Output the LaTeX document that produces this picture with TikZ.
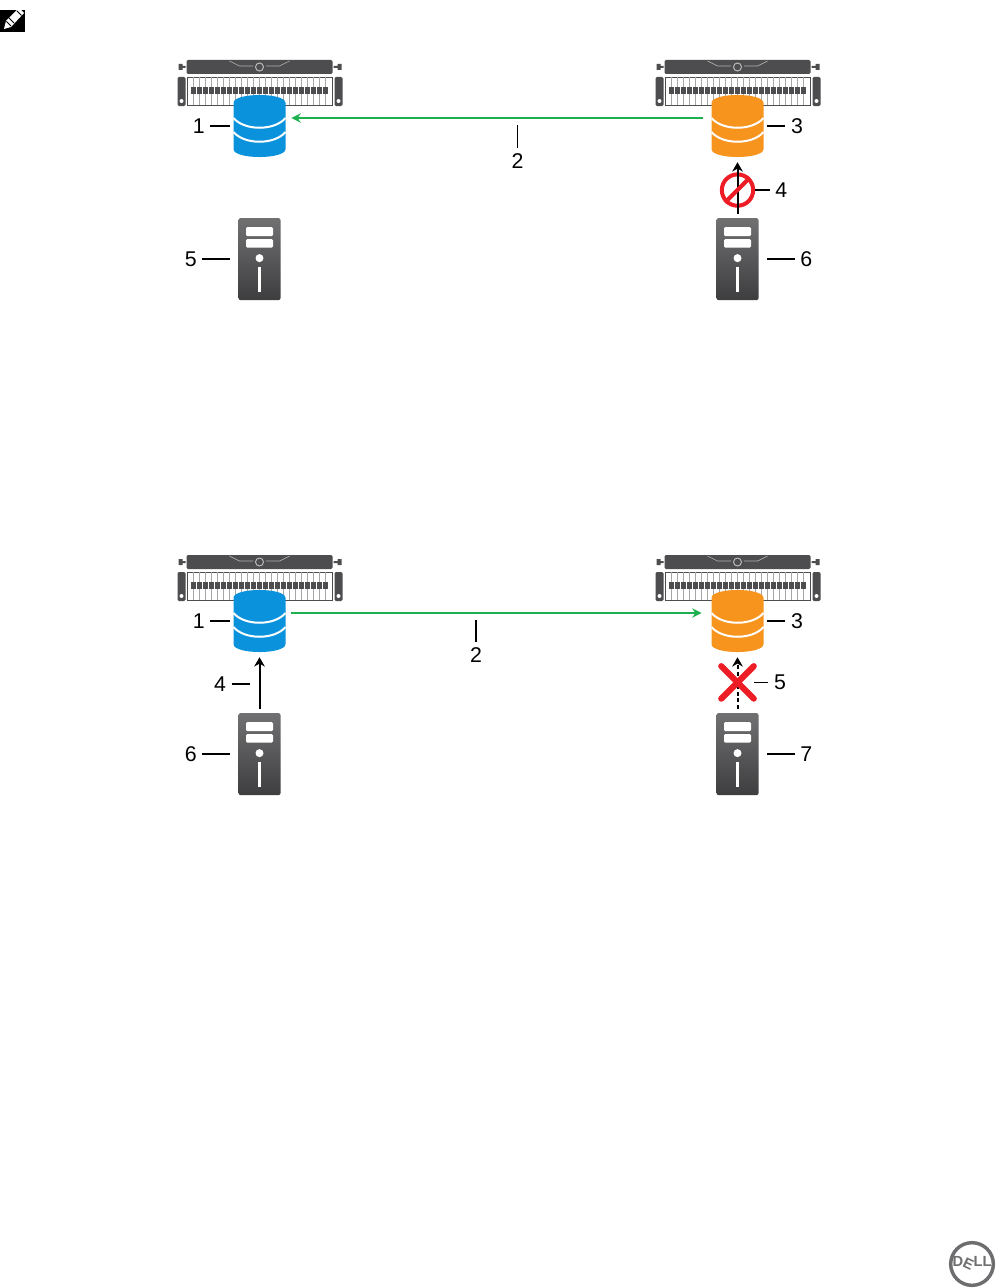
\documentclass[tikz,border=0pt]{standalone}
\usepackage{fontspec}
\setmainfont{Liberation Sans}
\usetikzlibrary{arrows.meta,positioning,calc}
\definecolor{dbblue}{HTML}{0A93DC}
\definecolor{dborange}{HTML}{F7941E}
\definecolor{replgreen}{HTML}{1CB04E}
\definecolor{stopred}{HTML}{EE1C25}
\definecolor{chassis}{HTML}{4D4D4F}
\definecolor{delllogo}{HTML}{6E6E70}
\tikzset{
  pics/dbstack/.style={code={
    \fill[#1] (-26,-23) .. controls (-26,-33.7) and (26,-33.7) .. (26,-23) -- (26,23)
      .. controls (26,33.7) and (-26,33.7) .. (-26,23) -- cycle;
    \draw[white,line width=1.5pt] (-26,-8) .. controls (-15,5) and (15,5) .. (26,-8);
    \draw[white,line width=1.5pt] (-26,6) .. controls (-15,19) and (15,19) .. (26,6);
  }},
  pics/rackunit/.style={code={
    \fill[chassis,rounded corners=1pt] (-73,-66) rectangle (73,-52);
    \draw[gray!60,line width=.5pt] (-30,-65) -- (-20,-60) -- (20,-60) -- (30,-65);
    \fill[chassis] (0,-59) circle[radius=6.5];
    \draw[gray!50,line width=.7pt] (0,-59) circle[radius=4];
    \fill[chassis] (-81,-62) rectangle (-77,-56) (-77,-60) rectangle (-74,-58);
    \fill[chassis] (82,-62) rectangle (78,-56) (78,-60) rectangle (74,-58);
    \fill[white] (-72,-49) rectangle (73,-21);
    \draw[chassis,line width=.6pt] (-72,-49) rectangle (73,-21);
    \foreach \px in {-66,-60,...,70} {
      \draw[gray!70,line width=.5pt] (\px,-49) -- (\px,-21);
      \fill[chassis] (\px-2.3,-39) rectangle (\px+2.3,-32);
    }
    \fill[chassis,rounded corners=1pt] (-82,-49) rectangle (-74,-20);
    \fill[chassis,rounded corners=1pt] (83,-49) rectangle (75,-20);
    \fill[white] (-78,-25) circle[radius=2] (79,-25) circle[radius=2];
  }},
  pics/towerunit/.style={code={
    \shade[top color=chassis!80!white,bottom color=chassis!80!black,rounded corners=1.5pt]
      (-21,-41) rectangle (21,41);
    \fill[white,rounded corners=1pt] (-13.5,-32) rectangle (13.5,-23);
    \fill[white,rounded corners=1pt] (-13.5,-20) rectangle (13.5,-11.5);
    \fill[white] (0,-1) circle[radius=4];
    \fill[white] (-1.2,8) rectangle (1.2,33);
  }}
}
\begin{document}
\begin{tikzpicture}[
  x=.75pt,y=-.75pt,
  node distance=41.7pt,
  every node/.style={font=\fontsize{16}{18}\selectfont,align=center},
  diskbox/.style={minimum width=49.5pt,minimum height=54pt,inner sep=0pt},
  serverbox/.style={minimum width=31.5pt,minimum height=61.5pt,inner sep=0pt},
  tag/.style={inner sep=4pt},
  leader/.style={line width=1.1pt,color=black},
  repl/.style={-{Stealth[length=7pt,width=7pt]},line width=1.5pt,color=replgreen},
  hostio/.style={-{Stealth[length=7pt,width=8pt]},line width=1.5pt,color=black},
  ring/.style={circle,draw=stopred,line width=3pt,minimum size=23.5pt,inner sep=0pt},
  crossbox/.style={minimum size=24pt,inner sep=0pt},
  stopmark/.style={line width=3pt,color=stopred},
  crossmark/.style={line width=4.6pt,line cap=round,color=stopred}
]
\useasboundingbox (0,0) rectangle (997,1288);
\fill[white] (0,0) rectangle (997,1288);

\fill[black] (0,10) rectangle (25,32);
\fill[white] (4,29) -- (6,21) -- (19,8) -- (24,13) -- (11,27) -- cycle;
\draw[black,line width=.6pt] (6.5,21.5) -- (11,26) (9,18) -- (14,23) (17,11) -- (21.5,15.5);

\node[diskbox] (diskA) at (259.5,126) {};
\node[diskbox] (diskB) at (737.5,126) {};
\node[serverbox,below=of diskA] (serverA) {};
\node[serverbox,below=of diskB] (serverB) {};
\node[ring] (ringB) at ($(diskB.south)!.5!(serverB.north)$) {};
\pic at (diskA.center) {rackunit};
\pic at (diskB.center) {rackunit};
\pic at (diskA.center) {dbstack=dbblue};
\pic at (diskB.center) {dbstack=dborange};
\pic at (serverA.center) {towerunit};
\pic at (serverB.center) {towerunit};
\node[tag,left=12pt of diskA] (tagA1) {1};
\node[tag] (tagA2) at (517.5,161) {2};
\coordinate (legA2) at (517.5,125);
\node[tag,right=11pt of diskB] (tagA3) {3};
\node[tag,right=11pt of ringB] (tagA4) {4};
\node[tag,left=27pt of serverA] (tagA5) {5};
\node[tag,right=27pt of serverB] (tagA6) {6};
\draw[repl,shorten <=1pt,shorten >=-1pt] ([yshift=6pt]diskB.west) -- ([yshift=6pt]diskA.east);
\draw[hostio,shorten <=3pt] (serverB.north) -- (diskB.south);
\draw[stopmark] (ringB.225) -- (ringB.45);
\draw[leader] (tagA1) -- ([xshift=2.6pt]diskA.west);
\draw[leader] (tagA2) -- (legA2);
\draw[leader] (tagA3) -- ([xshift=-2.6pt]diskB.east);
\draw[leader] (tagA4) -- (ringB);
\draw[leader] (tagA5) -- ([xshift=-6pt]serverA.west);
\draw[leader] (tagA6) -- ([xshift=6pt]serverB.east);

\node[diskbox] (diskC) at (259.5,621) {};
\node[diskbox] (diskD) at (737.5,621) {};
\node[serverbox,below=of diskC] (serverC) {};
\node[serverbox,below=of diskD] (serverD) {};
\node[crossbox,yshift=2pt] (crossD) at ($(diskD.south)!.5!(serverD.north)$) {};
\pic at (diskC.center) {rackunit};
\pic at (diskD.center) {rackunit};
\pic at (diskC.center) {dbstack=dbblue};
\pic at (diskD.center) {dbstack=dborange};
\pic at (serverC.center) {towerunit};
\pic at (serverD.center) {towerunit};
\node[tag,left=12pt of diskC] (tagC1) {1};
\node[tag] (tagC2) at (476,655) {2};
\coordinate (legC2) at (476,620);
\node[tag,right=11pt of diskD] (tagC3) {3};
\node[tag] (tagC4) at (220,684) {4};
\coordinate (legC4) at (250,684);
\node[tag,right=11pt of crossD] (tagC5) {5};
\node[tag,left=27pt of serverC] (tagC6) {6};
\node[tag,right=27pt of serverD] (tagC7) {7};
\draw[repl,shorten <=-1pt,shorten >=2pt] ([yshift=6pt]diskC.east) -- ([yshift=6pt]diskD.west);
\draw[hostio,shorten <=3pt] (serverC.north) -- (diskC.south);
\draw[hostio,dash pattern=on 3pt off 2pt,shorten <=3pt] (serverD.north) -- (diskD.south);
\draw[leader] (tagC5) -- (crossD);
\draw[crossmark] (crossD.north west) -- (crossD.south east);
\draw[crossmark] (crossD.north east) -- (crossD.south west);
\draw[leader] (tagC1) -- ([xshift=2.6pt]diskC.west);
\draw[leader] (tagC2) -- (legC2);
\draw[leader] (tagC3) -- ([xshift=-2.6pt]diskD.east);
\draw[leader] (tagC4) -- (legC4);
\draw[leader] (tagC6) -- ([xshift=-6pt]serverC.west);
\draw[leader] (tagC7) -- ([xshift=6pt]serverD.east);

\node[circle,draw=delllogo,line width=2.6pt,minimum size=32pt,inner sep=0pt,
  text=delllogo,font=\fontsize{11}{12}\selectfont\bfseries] (dellmark) at (972,1264)
  {D\kern-1pt\rotatebox{-25}{E}\kern-1pt LL};
\end{tikzpicture}
\end{document}
